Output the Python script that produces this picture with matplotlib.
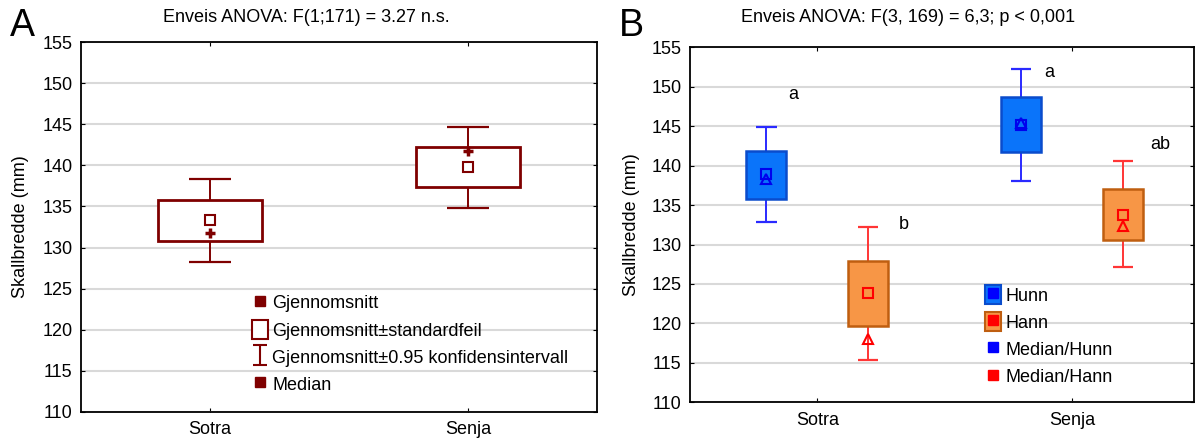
import matplotlib
matplotlib.use('Agg')
import matplotlib.pyplot as plt
import numpy as np
from matplotlib.lines import Line2D
from matplotlib.patches import Rectangle
from matplotlib.path import Path
from matplotlib.legend_handler import HandlerTuple

plt.rcParams['font.family'] = ['Liberation Sans', 'DejaVu Sans']
plt.rcParams['font.size'] = 13

# Data
sites = ['Sotra', 'Senja']

# Panel A (both sexes)
a_mean = [133.3, 139.8]
a_median = [131.8, 141.7]
a_se_lo = [130.8, 137.4]
a_se_hi = [135.8, 142.3]
a_ci_lo = [128.2, 134.8]
a_ci_hi = [138.3, 144.7]

# Panel B (by sex)
hunn_mean = [138.9, 145.15]
hunn_median = [138.3, 145.4]
hunn_se_lo = [135.8, 141.7]
hunn_se_hi = [141.9, 148.7]
hunn_ci_lo = [132.8, 138.1]
hunn_ci_hi = [144.9, 152.3]

hann_mean = [123.8, 133.8]
hann_median = [118.0, 132.3]
hann_se_lo = [119.7, 130.6]
hann_se_hi = [127.95, 137.1]
hann_ci_lo = [115.4, 127.1]
hann_ci_hi = [132.2, 140.55]

letters = ['a', 'b', 'a', 'ab']
letter_x = [-0.095, 0.341, 0.911, 1.347]
letter_y = [149.0, 132.6, 151.8, 142.7]

yticks = np.arange(110, 156, 5)

dark_red = '#7f0000'
hunn_face = '#0a74fa'
hunn_edge = '#0a4ccc'
hunn_line = '#2a2aff'
hunn_mark = '#0000ee'
hann_face = '#f79646'
hann_edge = '#bf5e10'
hann_line = '#ff3535'
hann_mark = '#ff0000'
FS = 13


def style_axes(ax, xlim):
    ax.set_ylim(110, 155)
    ax.set_xlim(*xlim)
    ax.set_yticks(yticks)
    ax.set_xticks(range(len(sites)))
    ax.set_xticklabels(sites)
    ax.yaxis.grid(True, color='#d9d9d9', linewidth=1.5)
    ax.set_axisbelow(True)
    ax.tick_params(axis='x', direction='in', length=3, top=True, pad=7, labelsize=FS)
    ax.tick_params(axis='y', direction='in', length=3, right=True, pad=6, labelsize=FS)
    for s in ax.spines.values():
        s.set_linewidth(1.3)
        s.set_color('black')
    ax.set_ylabel('Skallbredde (mm)', fontsize=FS)
    ax.yaxis.set_label_coords(-0.10, 0.5)


def draw_group(ax, x, se_lo, se_hi, ci_lo, ci_hi, face, edge, line, width, capw, box_lw):
    x = np.asarray(x, dtype=float)
    ax.vlines(x, ci_lo, ci_hi, color=line, linewidth=1.4, zorder=2)
    ax.hlines(ci_lo, x - capw / 2, x + capw / 2, color=line, linewidth=1.6, zorder=2)
    ax.hlines(ci_hi, x - capw / 2, x + capw / 2, color=line, linewidth=1.6, zorder=2)
    heights = np.asarray(se_hi) - np.asarray(se_lo)
    ax.bar(x, heights, bottom=se_lo, width=width, facecolor=face,
           edgecolor=edge, linewidth=box_lw, zorder=3)


fig = plt.figure(figsize=(11.95, 4.43), dpi=100)
axA = fig.add_axes([81 / 1195, (443 - 411.7) / 443, 516 / 1195, 369.4 / 443])
axB = fig.add_axes([690 / 1195, (443 - 402.3) / 443, 504 / 1195, 355 / 443])

# Panel A
style_axes(axA, (-0.5, 1.5))
xa = np.arange(len(sites))
draw_group(axA, xa, a_se_lo, a_se_hi, a_ci_lo, a_ci_hi, 'white', dark_red, dark_red,
           0.4, 0.16, 2.0)
axA.plot(xa, a_mean, 's', ms=6.5, mfc='none', mec=dark_red, mew=1.5, zorder=4)
axA.plot(xa, a_median, '+', ms=7, mec=dark_red, mew=2.5, zorder=4)

ibeam = Path([(-0.7, -1), (0.7, -1), (0, -1), (0, 1), (-0.7, 1), (0.7, 1)],
             [Path.MOVETO, Path.LINETO, Path.MOVETO, Path.LINETO, Path.MOVETO, Path.LINETO])
hA = [
    Line2D([], [], marker='s', ls='none', ms=7.5, mfc=dark_red, mec=dark_red),
    Rectangle((0, 0), 1, 1, facecolor='white', edgecolor=dark_red, linewidth=1.5),
    Line2D([], [], marker=ibeam, ls='none', ms=15, mfc='none', mec=dark_red, mew=1.5),
    Line2D([], [], marker='s', ls='none', ms=7.5, mfc=dark_red, mec=dark_red),
]
lA = ['Gjennomsnitt', 'Gjennomsnitt\u00b1standardfeil',
      'Gjennomsnitt\u00b10.95 konfidensintervall', 'Median']
axA.legend(hA, lA, loc='upper left', bbox_to_anchor=(0.331, 0.322), frameon=False,
           handlelength=0.9, handleheight=1.25, handletextpad=0.22,
           labelspacing=0.42, borderaxespad=0, borderpad=0, fontsize=FS)

# Panel B
style_axes(axB, (-0.5, 1.48))
xb = np.arange(len(sites))
off = 0.2
draw_group(axB, xb - off, hunn_se_lo, hunn_se_hi, hunn_ci_lo, hunn_ci_hi,
           hunn_face, hunn_edge, hunn_line, 0.157, 0.08, 1.8)
draw_group(axB, xb + off, hann_se_lo, hann_se_hi, hann_ci_lo, hann_ci_hi,
           hann_face, hann_edge, hann_line, 0.157, 0.08, 1.8)
axB.plot(xb - off, hunn_mean, 's', ms=7, mfc='none', mec=hunn_mark, mew=1.5, zorder=4)
axB.plot(xb - off, hunn_median, '^', ms=6.5, mfc='none', mec=hunn_mark, mew=1.5, zorder=4)
axB.plot(xb + off, hann_mean, 's', ms=7, mfc='none', mec=hann_mark, mew=1.5, zorder=4)
axB.plot(xb + off, hann_median, '^', ms=6.5, mfc='none', mec=hann_mark, mew=1.5, zorder=4)

for t, lx, ly in zip(letters, letter_x, letter_y):
    axB.text(lx, ly, t, ha='center', va='center', fontsize=FS)

hB = [
    (Rectangle((0, 0), 1, 1, facecolor=hunn_face, edgecolor=hunn_edge, linewidth=1.5),
     Line2D([], [], marker='s', ls='none', ms=7, mfc='#0000ff', mec='#0000ff')),
    (Rectangle((0, 0), 1, 1, facecolor=hann_face, edgecolor=hann_edge, linewidth=1.5),
     Line2D([], [], marker='s', ls='none', ms=7, mfc='#ff0000', mec='#ff0000')),
    Line2D([], [], marker='s', ls='none', ms=7.5, mfc='#0000ff', mec='#0000ff'),
    Line2D([], [], marker='s', ls='none', ms=7.5, mfc='#ff0000', mec='#ff0000'),
]
lB = ['Hunn', 'Hann', 'Median/Hunn', 'Median/Hann']
axB.legend(hB, lB, loc='upper left', bbox_to_anchor=(0.585, 0.33), frameon=False,
           handlelength=0.9, handleheight=1.25, handletextpad=0.22,
           labelspacing=0.42, borderaxespad=0, borderpad=0, fontsize=FS,
           handler_map={tuple: HandlerTuple(ndivide=1, pad=0)})

# Titles and panel letters
fig.text(306 / 1195, 1 - 18 / 443, 'Enveis ANOVA: F(1;171) = 3.27 n.s.',
         ha='center', va='center', fontsize=FS)
fig.text(908 / 1195, 1 - 18 / 443, 'Enveis ANOVA: F(3, 169) = 6,3; p < 0,001',
         ha='center', va='center', fontsize=FS)
fig.text(10 / 1195, 1 - 26 / 443, 'A', ha='left', va='center', fontsize=27)
fig.text(619 / 1195, 1 - 26 / 443, 'B', ha='left', va='center', fontsize=27)

fig.savefig('out.png', dpi=100)
